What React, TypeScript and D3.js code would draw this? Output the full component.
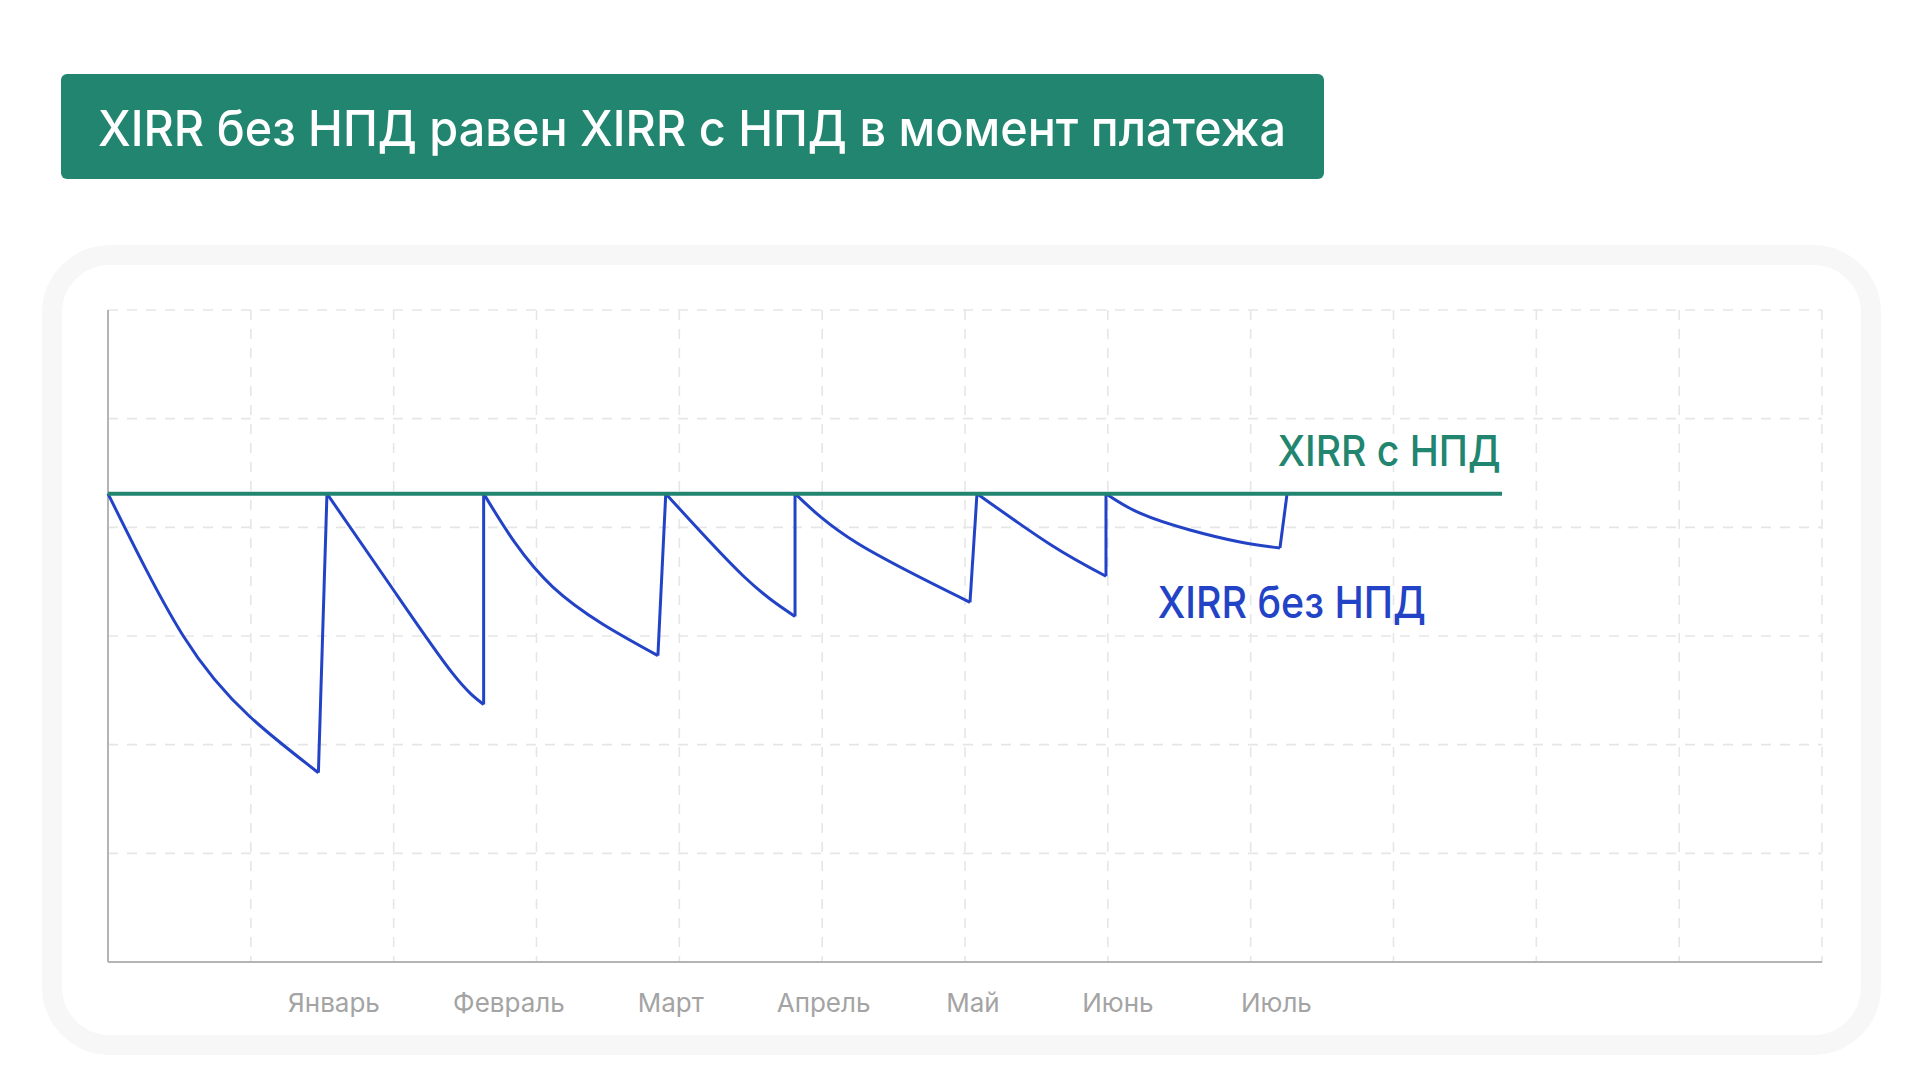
import React from 'react';
import * as d3 from 'd3';

// ---- data ----
const titleText = 'XIRR без НПД равен XIRR с НПД в момент платежа';
const months = ['Январь', 'Февраль', 'Март', 'Апрель', 'Май', 'Июнь', 'Июль'];
const monthPos = [1.582, 2.807, 3.94, 5.01, 6.056, 7.07, 8.18];

const withTaxValue = 4.31;
const withTaxRange = [0, 9.76];

// XIRR без НПД: decay between payments (x, value)
const periodJan: [number, number][] = [[0, 4.31], [0.527, 3.0], [0.994, 2.257], [1.473, 1.742]];
const periodFeb: [number, number][] = [[1.533, 4.31], [1.995, 3.43], [2.41, 2.66], [2.63, 2.37]];
const periodMar: [number, number][] = [[2.63, 4.31], [3.115, 3.45], [3.85, 2.82]];
const periodApr: [number, number][] = [[3.905, 4.31], [4.45, 3.55], [4.81, 3.18]];
const periodMay: [number, number][] = [[4.81, 4.31], [5.244, 3.855], [6.035, 3.31]];
const periodJun: [number, number][] = [[6.084, 4.31], [6.6, 3.84], [6.987, 3.55]];
const periodJul: [number, number][] = [[6.987, 4.31], [7.225, 4.13], [7.575, 3.975], [7.925, 3.865], [8.205, 3.81]];
const lastPayment: [number, number] = [8.255, 4.31];

const periods = [periodJan, periodFeb, periodMar, periodApr, periodMay, periodJun, periodJul];

const xTicks = d3.range(0, 13);
const yTicks = d3.range(0, 7);

const labelWith = { text: 'XIRR с НПД', x: 9.75, y: 4.564 };
const labelWithout = { text: 'XIRR без НПД', x: 7.35, y: 3.17 };

// ---- styles ----
const GREEN = '#21856f';
const BLUE = '#2343c6';
const FONT = 'Inter, "Noto Sans", sans-serif';

export default function App() {
  const W = 1920;
  const H = 1080;
  const plot = { left: 108, right: 1822, top: 310, bottom: 962 };
  const x = d3.scaleLinear().domain([0, 12]).range([plot.left, plot.right]);
  const y = d3.scaleLinear().domain([0, 6]).range([plot.bottom, plot.top]);

  const curveLine = d3
    .line<[number, number]>()
    .x((d) => x(d[0]))
    .y((d) => y(d[1]))
    .curve(d3.curveNatural);
  const straight = d3
    .line<[number, number]>()
    .x((d) => x(d[0]))
    .y((d) => y(d[1]));

  const jumps: [number, number][][] = periods.map((p, i) => {
    const last = p[p.length - 1];
    const next = i + 1 < periods.length ? periods[i + 1][0] : lastPayment;
    return [last, next];
  });

  return (
    <svg
      width={W}
      height={H}
      viewBox={`0 0 ${W} ${H}`}
      style={{ position: 'absolute', left: 0, top: 0, display: 'block', background: '#fff' }}
    >
      {/* title */}
      <rect x={61} y={74} width={1263} height={105} rx={6} fill={GREEN} />
      <text
        x={98}
        y={146}
        fill="#fff"
        fontFamily={FONT}
        fontSize={50}
        fontWeight={500}
        textLength={1188}
        lengthAdjust="spacingAndGlyphs"
      >
        {titleText}
      </text>

      {/* card */}
      <rect x={52} y={255} width={1819} height={790} rx={58} fill="#fff" stroke="#f7f7f7" strokeWidth={20} />

      {/* grid */}
      <g stroke="#e6e6e6" strokeWidth={1.6} strokeDasharray="10 9">
        {xTicks.slice(1).map((t) => (
          <line key={'gx' + t} x1={x(t)} x2={x(t)} y1={y(6)} y2={y(0)} />
        ))}
        {yTicks.slice(1).map((t) => (
          <line key={'gy' + t} x1={x(0)} x2={x(12)} y1={y(t)} y2={y(t)} />
        ))}
      </g>

      {/* axes */}
      <line x1={x(0)} x2={x(0)} y1={y(6)} y2={y(0)} stroke="#b4b4b4" strokeWidth={2} />
      <line x1={x(0)} x2={x(12)} y1={y(0)} y2={y(0)} stroke="#b4b4b4" strokeWidth={2} />

      {/* month labels */}
      {months.map((m, i) => (
        <text
          key={m}
          x={x(monthPos[i])}
          y={1012}
          textAnchor="middle"
          fill="#a4a4a4"
          fontFamily={FONT}
          fontSize={26}
        >
          {m}
        </text>
      ))}

      {/* XIRR без НПД */}
      <g fill="none" stroke={BLUE} strokeWidth={3} strokeLinejoin="miter">
        {periods.map((p, i) => (
          <path key={'p' + i} d={curveLine(p) || ''} />
        ))}
        {jumps.map((j, i) => (
          <path key={'j' + i} d={straight(j) || ''} />
        ))}
      </g>

      {/* XIRR с НПД */}
      <line
        x1={x(withTaxRange[0])}
        x2={x(withTaxRange[1])}
        y1={y(withTaxValue)}
        y2={y(withTaxValue)}
        stroke={GREEN}
        strokeWidth={4}
      />

      <text
        x={x(labelWith.x)}
        y={y(labelWith.y)}
        textAnchor="end"
        fill={GREEN}
        fontFamily={FONT}
        fontSize={43}
        fontWeight={500}
        textLength={223}
        lengthAdjust="spacingAndGlyphs"
      >
        {labelWith.text}
      </text>
      <text
        x={x(labelWithout.x)}
        y={y(labelWithout.y)}
        fill={BLUE}
        fontFamily={FONT}
        fontSize={44}
        fontWeight={500}
        textLength={268}
        lengthAdjust="spacingAndGlyphs"
      >
        {labelWithout.text}
      </text>
    </svg>
  );
}
